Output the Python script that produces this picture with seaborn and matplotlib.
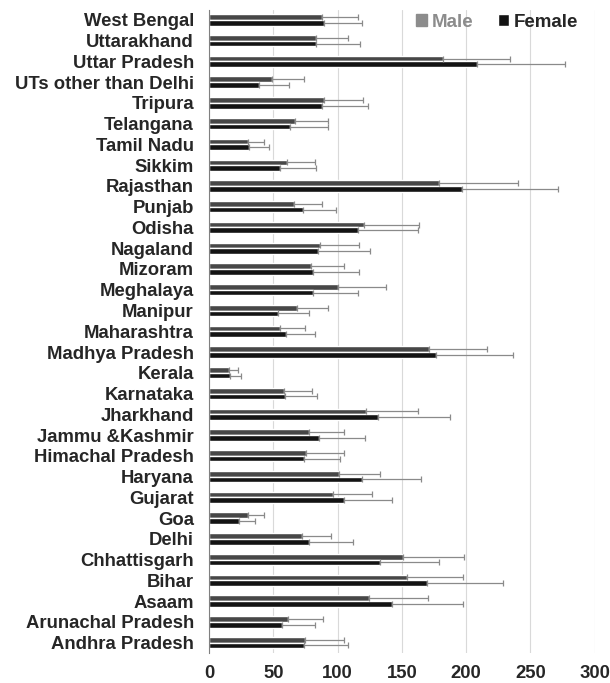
import numpy as np
import pandas as pd
import matplotlib
matplotlib.use("Agg")
import matplotlib.pyplot as plt
import seaborn as sns

states = ["West Bengal", "Uttarakhand", "Uttar Pradesh", "UTs other than Delhi",
          "Tripura", "Telangana", "Tamil Nadu", "Sikkim", "Rajasthan", "Punjab",
          "Odisha", "Nagaland", "Mizoram", "Meghalaya", "Manipur", "Maharashtra",
          "Madhya Pradesh", "Kerala", "Karnataka", "Jharkhand", "Jammu &Kashmir",
          "Himachal Pradesh", "Haryana", "Gujarat", "Goa", "Delhi", "Chhattisgarh",
          "Bihar", "Asaam", "Arunachal Pradesh", "Andhra Pradesh"]

male = [87.6, 83.2, 182.2, 48.7, 89.4, 66.4, 30.1, 60.7, 179.1, 65.6,
        120.8, 86.3, 79.1, 100.0, 68.2, 54.7, 171.3, 15.3, 57.8, 121.8, 78.0,
        75.2, 100.6, 96.2, 29.8, 72.3, 150.6, 154.2, 124.2, 61.4, 74.9]
male_err = [28.0, 24.6, 51.8, 25.2, 30.1, 25.9, 12.9, 21.7, 60.9, 22.5,
            42.5, 30.6, 25.9, 37.6, 24.1, 20.2, 45.1, 6.7, 22.0, 41.0, 26.5,
            29.3, 32.4, 30.8, 13.0, 22.6, 47.7, 43.6, 45.8, 27.5, 30.1]

female = [89.4, 83.2, 208.1, 38.9, 87.6, 62.5, 31.1, 55.2, 197.0, 72.6,
          115.6, 84.5, 80.6, 81.1, 53.9, 59.4, 176.3, 16.3, 59.1, 131.7, 85.3,
          74.1, 119.2, 105.2, 23.1, 77.8, 132.5, 169.5, 142.0, 57.0, 73.9]
female_err = [29.3, 34.5, 68.7, 23.3, 36.3, 30.3, 15.6, 27.7, 74.6, 26.4,
              47.2, 40.4, 36.3, 35.0, 23.6, 23.0, 59.8, 8.3, 25.1, 55.7, 36.3,
              27.8, 45.4, 36.8, 12.2, 34.4, 46.1, 58.9, 55.8, 25.2, 33.9]

df = pd.DataFrame({
    "state": states * 2,
    "value": male + female,
    "err": male_err + female_err,
    "sex": ["Male"] * len(states) + ["Female"] * len(states),
})

sns.set_style("white")
plt.rcParams["font.family"] = ["Liberation Sans", "DejaVu Sans"]
plt.rcParams["font.weight"] = "bold"

fig = plt.figure(figsize=(6.10, 6.83), dpi=100)
ax = fig.add_axes([0.343, 0.044, 0.632, 0.942])

palette = {"Male": "#474747", "Female": "#131313"}
sns.barplot(data=df, y="state", x="value", hue="sex", order=states,
            hue_order=["Male", "Female"], palette=palette, orient="h",
            width=0.55, errorbar=None, ax=ax, saturation=1)

# error bars (positive side only), placed on the bar patches
for container, sex in zip(ax.containers, ["Male", "Female"]):
    errs = df[df["sex"] == sex]["err"].values
    for bar, e in zip(container, errs):
        yc = bar.get_y() + bar.get_height() / 2
        ax.errorbar(bar.get_width(), yc, xerr=[[0], [e]], fmt="none",
                    ecolor="#8a8a8a", elinewidth=0.9, capsize=2.2, capthick=0.9)

ax.set_xlim(0, 300)
ax.set_xticks(range(0, 301, 50))
ax.set_ylim(len(states) - 0.5, -0.5)
ax.grid(axis="x", color="#d9d9d9", linewidth=0.8)
ax.set_axisbelow(True)
for s in ["top", "right", "bottom"]:
    ax.spines[s].set_visible(False)
ax.spines["left"].set_color("#808080")
ax.set_xlabel("")
ax.set_ylabel("")
ax.tick_params(axis="y", length=0, pad=11, labelsize=13.3)
ax.tick_params(axis="x", length=0, pad=8.5, labelsize=13.3)

leg = ax.legend(loc="upper right", bbox_to_anchor=(1.0, 1.02), ncol=2,
                frameon=False, handlelength=0.6, handleheight=0.6,
                handletextpad=0.25, columnspacing=1.3, prop={"size": 13.5, "weight": "bold"})
leg.get_texts()[0].set_color("#8c8c8c")
leg.legend_handles[0].set_color("#8c8c8c")

fig.savefig("out.png", dpi=100)
